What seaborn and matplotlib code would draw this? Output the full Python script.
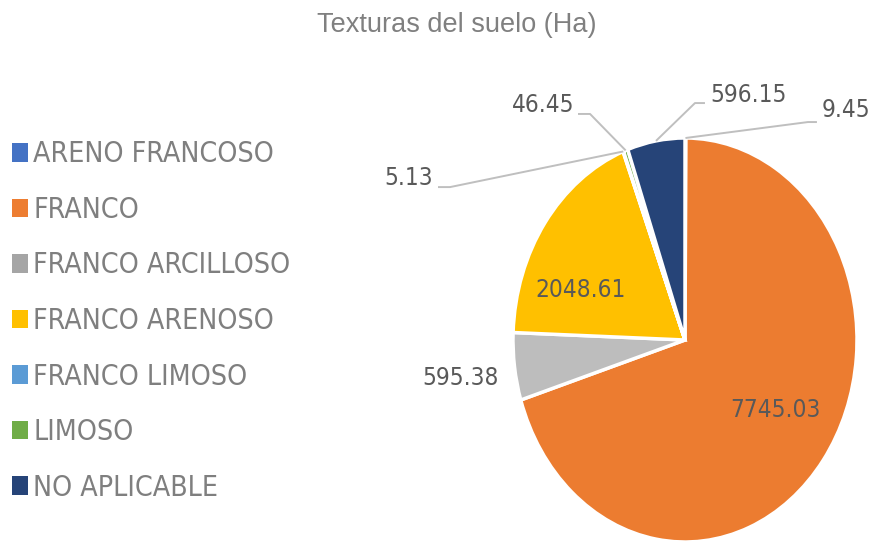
import matplotlib
matplotlib.use("Agg")
import numpy as np
import matplotlib.pyplot as plt
import seaborn as sns
from matplotlib.patches import Patch
from matplotlib import font_manager as fm

# soil textures and their area in hectares
categories = ["ARENO FRANCOSO", "FRANCO", "FRANCO ARCILLOSO", "FRANCO ARENOSO",
              "FRANCO LIMOSO", "LIMOSO", "NO APLICABLE"]
hectares = [9.45, 7745.03, 595.38, 2048.61, 5.13, 46.45, 596.15]
value_labels = ["9.45", "7745.03", "595.38", "2048.61", "5.13", "46.45", "596.15"]
colors = ["#4472C4", "#EC7C30", "#BDBDBD", "#FFC000", "#5B9BD5", "#70AD47", "#264478"]
legend_colors = ["#4472C4", "#ED7D31", "#A5A5A5", "#FFC000", "#5B9BD5", "#70AD47", "#264478"]

# label layout: (text x, text y, ha, elbow x, end x, line y) ; None -> no leader line
label_layout = {
    "ARENO FRANCOSO": (0.797, 1.139, "left", 0.715, 0.767, 1.079),
    "FRANCO": (0.523, -0.347, "center", None, None, None),
    "FRANCO ARCILLOSO": (-1.308, -0.188, "center", None, None, None),
    "FRANCO ARENOSO": (-0.61, 0.248, "center", None, None, None),
    "FRANCO LIMOSO": (-1.465, 0.802, "right", -1.366, -1.436, 0.757),
    "LIMOSO": (-0.645, 1.163, "right", -0.552, -0.622, 1.119),
    "NO APLICABLE": (0.145, 1.213, "left", 0.058, 0.116, 1.173),
}

# pick a narrow face if one is around
fonts = fm.fontManager.ttflist
has_narrow = any(f.name == "Liberation Sans Narrow" for f in fonts)
has_cond = any(f.name == "DejaVu Sans" and f.stretch == "condensed" for f in fonts)
if has_narrow:
    body = dict(family=["Liberation Sans Narrow", "DejaVu Sans"])
    lab_fs, leg_fs = 21, 22
elif has_cond:
    body = dict(family=["DejaVu Sans"], stretch="condensed")
    lab_fs, leg_fs = 17.5, 20.4
else:
    body = dict(family=["Liberation Sans", "DejaVu Sans"])
    lab_fs, leg_fs = 16, 18.4

sns.set_theme(style="white")
plt.rcParams["font.family"] = ["Liberation Sans", "DejaVu Sans"]

fig = plt.figure(figsize=(8.77, 5.42), dpi=100)
ax = fig.add_axes([0, 0, 1, 1])

wedges, _ = ax.pie(hectares, colors=colors, startangle=90, counterclock=False,
                   wedgeprops=dict(edgecolor="white", linewidth=2.5))
ax.set_aspect("auto")
ax.set_xlim(-685 / 172, 192 / 172)
ax.set_ylim(-1.0, 340 / 202)
ax.axis("off")

for w, cat, txt in zip(wedges, categories, value_labels):
    tx, ty, ha, ex, endx, ly = label_layout[cat]
    if ex is not None:
        mid = np.deg2rad((w.theta1 + w.theta2) / 2)
        ax.plot([np.cos(mid), ex, endx], [np.sin(mid), ly, ly],
                color="#BFBFBF", lw=1.4, solid_capstyle="butt")
    ax.text(tx, ty, txt, ha=ha, va="center", fontsize=lab_fs, color="#595959", **body)

handles = [Patch(facecolor=c, edgecolor="none") for c in legend_colors]
leg_prop = fm.FontProperties(size=leg_fs, **body)
leg_px = leg_fs * 100 / 72
fig.legend(handles, categories, loc="center left",
           bbox_to_anchor=(12 / 877, 1 - 321 / 542), frameon=False,
           prop=leg_prop, labelcolor="#7F7F7F", borderpad=0, borderaxespad=0,
           handlelength=16 / leg_px, handleheight=18 / leg_px, handletextpad=5 / leg_px,
           labelspacing=(56.3 + 3.8 - 1.15 * leg_px) / leg_px)

fig.text(457 / 877, 1 - 25 / 542, "Texturas del suelo (Ha)", ha="center", va="center",
         fontsize=19.5, color="#808080")

fig.savefig("out.png", dpi=100)
